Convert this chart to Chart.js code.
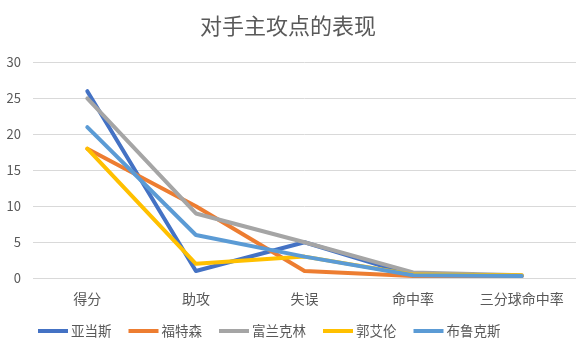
<!DOCTYPE html>
<html><head><meta charset="utf-8">
<script src="https://cdn.jsdelivr.net/npm/chart.js@4"></script>
<style>html,body{margin:0;padding:0;background:#fff}#wrap{width:579px;height:357px}</style>
</head><body><div id="wrap"><canvas id="c" width="579" height="357"></canvas></div>
<script>
const categories = ["得分","助攻","失误","命中率","三分球命中率"];
const seriesNames = ["亚当斯","福特森","富兰克林","郭艾伦","布鲁克斯"];
const adams = [26,1,5,0.4,0.3];
const fortson = [18,10,1,0.3,0.3];
const franklin = [25,9,5,0.8,0.4];
const guoailun = [18,2,3,0.5,0.4];
const brooks = [21,6,3,0.4,0.3];
const yTicks = [0,5,10,15,20,25,30];
const colors = ["#4472C4","#ED7D31","#A5A5A5","#FFC000","#5B9BD5"];
const values = [adams,fortson,franklin,guoailun,brooks];
const FONT = "'Noto Sans CJK SC','Noto Sans',sans-serif";
const legendPlugin = {
  id:'customLegend',
  afterDraw(chart){
    const ctx = chart.ctx;
    ctx.save();
    ctx.font = "13.5px " + FONT;
    ctx.textBaseline = 'middle';
    ctx.textAlign = 'left';
    let x = 38; const y = 331;
    chart.data.datasets.forEach((d)=>{
      ctx.fillStyle = d.borderColor;
      ctx.fillRect(x, y-2, 30, 4);
      x += 33;
      ctx.fillStyle = "#595959";
      ctx.fillText(d.label, x, y);
      x += ctx.measureText(d.label).width + 17;
    });
    ctx.restore();
  }
};
new Chart(document.getElementById('c'),{
  type:'line',
  data:{labels:categories,datasets:values.map((v,i)=>({label:seriesNames[i],data:v,borderColor:colors[i],backgroundColor:colors[i],borderWidth:4,pointRadius:0,tension:0,borderCapStyle:'round',borderJoinStyle:'round',order:5-i}))},
  options:{
    responsive:false,animation:false,
    layout:{padding:{left:0,right:3,top:0,bottom:46}},
    plugins:{
      title:{display:true,text:"对手主攻点的表现",color:"#595959",font:{family:FONT,size:22,weight:'normal'},padding:{top:12,bottom:24}},
      legend:{display:false},
      tooltip:{enabled:false}
    },
    scales:{
      x:{offset:true,grid:{display:false},border:{display:false},ticks:{color:"#595959",font:{family:FONT,size:14},padding:4,maxRotation:0}},
      y:{min:0,max:30,afterFit:(ax)=>{ax.width=33;},afterBuildTicks:(ax)=>{ax.ticks=yTicks.map(v=>({value:v}));},grid:{color:"#D9D9D9",drawTicks:false},border:{display:false},ticks:{color:"#595959",font:{family:FONT,size:13},padding:12}}
    }
  },
  plugins:[legendPlugin]
});
</script></body></html>
